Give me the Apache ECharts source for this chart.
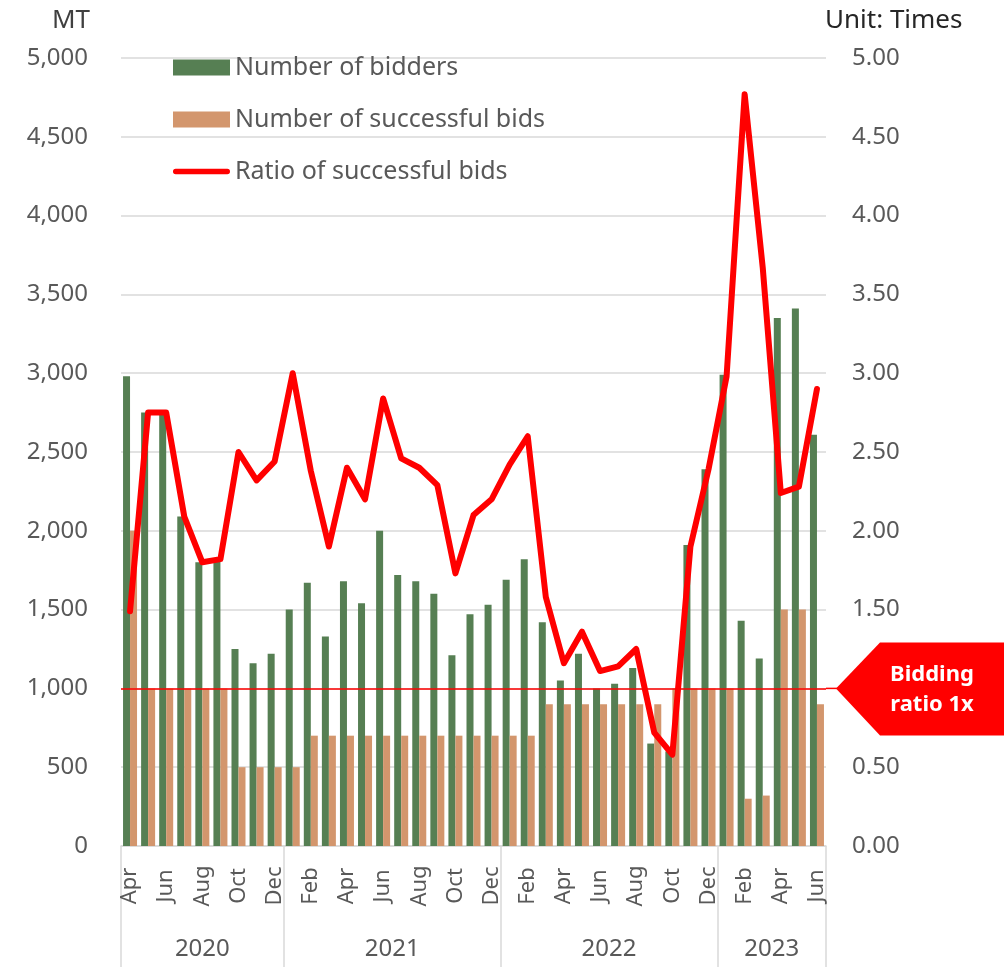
<!DOCTYPE html>
<html>
<head>
<meta charset="utf-8">
<script src="https://cdn.jsdelivr.net/npm/echarts@6/dist/echarts.min.js"></script>
<style>
  html, body { margin: 0; padding: 0; background: #fff; }
  #chart { width: 1004px; height: 967px; }
</style>
</head>
<body>
<div id="chart"></div>
<script>
// 月份（2020年4月〜2023年6月）
var months = ['Apr','May','Jun','Jul','Aug','Sep','Oct','Nov','Dec',
  'Jan','Feb','Mar','Apr','May','Jun','Jul','Aug','Sep','Oct','Nov','Dec',
  'Jan','Feb','Mar','Apr','May','Jun','Jul','Aug','Sep','Oct','Nov','Dec',
  'Jan','Feb','Mar','Apr','May','Jun'];
var years = ['2020','2021','2022','2023'];
var yearMonths = [9, 12, 12, 6];

// Number of bidders (MT)
var bidders = [2980,2750,2760,2090,1800,1820,1250,1160,1220,
  1500,1670,1330,1680,1540,2000,1720,1680,1600,1210,1470,1530,
  1690,1820,1420,1050,1220,1000,1030,1130,650,600,1910,2390,
  2990,1430,1190,3350,3410,2610];
// Number of successful bids (MT)
var successful = [2000,1000,1000,1000,1000,1000,500,500,500,
  500,700,700,700,700,700,700,700,700,700,700,700,
  700,700,900,900,900,900,900,900,900,1000,1000,1000,
  1000,300,320,1500,1500,900];
// Ratio of successful bids (times)
var ratio = [1.49,2.75,2.75,2.09,1.80,1.82,2.50,2.32,2.44,
  3.00,2.38,1.90,2.40,2.20,2.84,2.46,2.40,2.29,1.73,2.10,2.20,
  2.42,2.60,1.58,1.16,1.36,1.11,1.14,1.25,0.72,0.58,1.90,2.39,
  2.98,4.77,3.67,2.24,2.28,2.90];

var font = 'Noto Sans';
var labelColor = '#595959';
var gridColor = '#d9d9d9';

// 年の区切りと中心
var yearEdges = [0], yearCenters = [];
yearMonths.forEach(function (n, i) {
  yearCenters.push(yearEdges[i] + n / 2);
  yearEdges.push(yearEdges[i] + n);
});

// 凡例の線アイコン（丸い端）
var lineIcon = 'path://M0,0L0.01,0ZM0,16L0.01,16ZM3,5H60A3,3 0 0 1 60,11H3A3,3 0 0 1 3,5Z';

var myChart = echarts.init(document.getElementById('chart'));
var option = {
  animation: false,
  textStyle: { fontFamily: font },
  grid: { left: 121, right: 178, top: 58, bottom: 121 },
  legend: {
    orient: 'vertical',
    left: 173,
    top: 55,
    padding: 0,
    itemGap: 27,
    itemWidth: 57,
    itemHeight: 16,
    textStyle: { fontSize: 25, color: labelColor, fontFamily: font },
    data: [
      { name: 'Number of bidders', icon: 'rect' },
      { name: 'Number of successful bids', icon: 'rect' },
      { name: 'Ratio of successful bids', icon: lineIcon }
    ]
  },
  xAxis: [
    {
      type: 'category',
      data: months,
      axisLine: { lineStyle: { color: gridColor, width: 1.5 } },
      axisTick: { show: false },
      axisLabel: {
        interval: 1,
        rotate: 90,
        align: 'center',
        margin: 40,
        fontSize: 22,
        color: labelColor,
        fontFamily: font
      }
    },
    {
      type: 'value',
      position: 'bottom',
      min: 0,
      max: months.length,
      axisLine: { show: false },
      splitLine: { show: false },
      axisTick: {
        show: true,
        customValues: yearEdges,
        length: 121,
        lineStyle: { color: gridColor, width: 1.5 }
      },
      axisLabel: {
        customValues: yearCenters,
        margin: 91,
        fontSize: 24,
        color: labelColor,
        fontFamily: font,
        formatter: function (v) {
          var idx = yearCenters.indexOf(v);
          return idx >= 0 ? years[idx] : '';
        }
      }
    }
  ],
  yAxis: [
    {
      type: 'value',
      min: 0,
      max: 5000,
      interval: 500,
      name: 'MT',
      nameLocation: 'end',
      nameGap: 24,
      nameTextStyle: { fontSize: 26, color: '#404040', align: 'right', padding: [0, 31, 0, 0] },
      axisLine: { show: false },
      axisTick: { show: false },
      splitLine: { lineStyle: { color: gridColor, width: 1.5 } },
      axisLabel: {
        margin: 33,
        fontSize: 24,
        color: labelColor,
        fontFamily: font,
        formatter: function (v) { return v.toLocaleString('en-US'); }
      }
    },
    {
      type: 'value',
      min: 0,
      max: 5,
      interval: 0.5,
      name: 'Unit: Times',
      nameLocation: 'end',
      nameGap: 24,
      nameTextStyle: { fontSize: 26, color: '#262626', align: 'left', padding: [0, 0, 0, -1] },
      axisLine: { show: false },
      axisTick: { show: false },
      splitLine: { show: false },
      axisLabel: {
        margin: 26,
        fontSize: 24,
        color: labelColor,
        fontFamily: font,
        formatter: function (v) { return v.toFixed(2); }
      }
    }
  ],
  series: [
    {
      name: 'Number of bidders',
      type: 'bar',
      yAxisIndex: 0,
      barWidth: 7,
      barGap: '0%',
      itemStyle: { color: '#567f53' },
      data: bidders
    },
    {
      name: 'Number of successful bids',
      type: 'bar',
      yAxisIndex: 0,
      barWidth: 7,
      itemStyle: { color: '#d3966d' },
      data: successful
    },
    {
      name: 'Ratio of successful bids',
      type: 'line',
      yAxisIndex: 1,
      symbol: 'none',
      z: 5,
      lineStyle: { color: '#ff0000', width: 6, cap: 'round', join: 'round' },
      itemStyle: { color: '#ff0000' },
      data: ratio,
      markLine: {
        silent: true,
        symbol: 'none',
        label: { show: false },
        lineStyle: { color: '#ff0000', width: 1.5, type: 'solid' },
        data: [{ yAxis: 1 }]
      }
    }
  ]
};
myChart.setOption(option);

// 吹き出し "Bidding ratio 1x"
var y1 = myChart.convertToPixel({ yAxisIndex: 1 }, 1);
myChart.setOption({
  graphic: [
    {
      type: 'line',
      z: 100,
      shape: { x1: 826, y1: y1, x2: 838, y2: y1 },
      style: { stroke: '#ff0000', lineWidth: 1.5 }
    },
    {
      type: 'polygon',
      z: 100,
      shape: { points: [[836, y1], [880, y1 - 46], [1004, y1 - 46], [1004, y1 + 47], [880, y1 + 47]] },
      style: { fill: '#ff0000' }
    },
    {
      type: 'text',
      z: 101,
      x: 932,
      y: y1 + 1,
      style: {
        text: 'Bidding\nratio 1x',
        fill: '#ffffff',
        font: 'bold 22px "Noto Sans"',
        lineHeight: 30,
        align: 'center',
        verticalAlign: 'middle'
      }
    }
  ]
});
</script>
</body>
</html>
